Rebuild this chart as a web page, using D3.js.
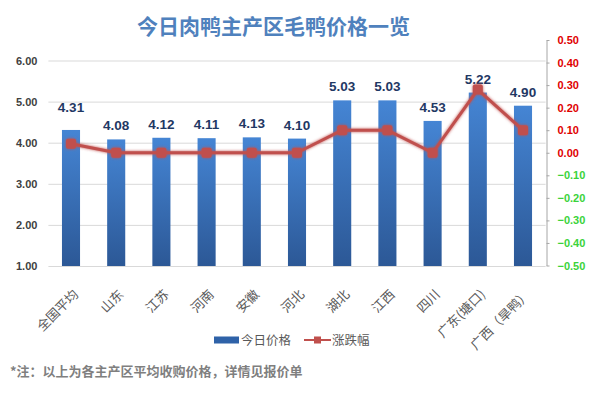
<!DOCTYPE html>
<html>
<head>
<meta charset="utf-8">
<script src="https://cdn.jsdelivr.net/npm/d3@7"></script>
<style>
  html, body { margin: 0; padding: 0; background: #fff; }
  svg { display: block; }
</style>
</head>
<body>
<svg id="chart" width="589" height="393"></svg>
<script>
const categories = ["全国平均", "山东", "江苏", "河南", "安徽", "河北", "湖北", "江西", "四川", "广东(塘口)", "广西（旱鸭）"];
const prices = [4.31, 4.08, 4.12, 4.11, 4.13, 4.10, 5.03, 5.03, 4.53, 5.22, 4.90];
const changes = [0.04, 0.00, 0.00, 0.00, 0.00, 0.00, 0.10, 0.10, 0.00, 0.28, 0.10];
const leftTicks = [1, 2, 3, 4, 5, 6];
const rightTicks = [-0.5, -0.4, -0.3, -0.2, -0.1, 0, 0.1, 0.2, 0.3, 0.4, 0.5];
const title = "今日肉鸭主产区毛鸭价格一览";
const note = "*注：以上为各主产区平均收购价格，详情见报价单";
const seriesNames = ["今日价格", "涨跌幅"];

const FONT = "'Noto Sans CJK SC', 'Noto Sans', sans-serif";
const NUMFONT = "'Liberation Sans', Arial, sans-serif";
const svg = d3.select("#chart");

const defs = svg.append("defs");
const grad = defs.append("linearGradient").attr("id", "barGrad")
  .attr("x1", 0).attr("y1", 0).attr("x2", 0).attr("y2", 1);
grad.append("stop").attr("offset", "0%").attr("stop-color", "#4585d4");
grad.append("stop").attr("offset", "100%").attr("stop-color", "#2c5896");
const glow = defs.append("filter").attr("id", "glow").attr("x", "-20%").attr("y", "-20%").attr("width", "140%").attr("height", "140%");
glow.append("feGaussianBlur").attr("in", "SourceGraphic").attr("stdDeviation", 1.6).attr("result", "b");
const fm = glow.append("feMerge");
fm.append("feMergeNode").attr("in", "b");
fm.append("feMergeNode").attr("in", "SourceGraphic");

const x = d3.scaleBand().domain(categories).range([48.4, 545.6]).paddingInner(0.6).paddingOuter(0.3);
const yL = d3.scaleLinear().domain([1, 6]).range([266, 60.5]);
const yR = d3.scaleLinear().domain([-0.5, 0.5]).range([265.5, 40]);

// Title
svg.append("text").attr("x", 273.5).attr("y", 34).attr("text-anchor", "middle")
  .attr("font-family", FONT).attr("font-weight", "bold").attr("font-size", 21)
  .attr("fill", "#4f81bd").text(title);

// Gridlines + left axis
const gL = svg.append("g").attr("transform", "translate(48.4,0)")
  .call(d3.axisLeft(yL).tickValues(leftTicks).tickFormat(d3.format(".2f"))
    .tickSize(-(545.6 - 48.4)).tickPadding(11));
gL.select(".domain").remove();
gL.selectAll(".tick line").attr("stroke", "#d9d9d9").attr("stroke-width", 1);
gL.selectAll(".tick text").attr("font-family", NUMFONT).attr("font-weight", "bold")
  .attr("font-size", 11).attr("fill", "#404040");

// Bars
svg.append("g").selectAll("rect").data(prices).join("rect")
  .attr("x", (d, i) => x(categories[i]))
  .attr("y", d => yL(d))
  .attr("width", x.bandwidth())
  .attr("height", d => yL(1) - yL(d))
  .attr("fill", "url(#barGrad)");

// Value labels
svg.append("g").selectAll("text").data(prices).join("text")
  .attr("x", (d, i) => x(categories[i]) + x.bandwidth() / 2)
  .attr("y", (d, i) => yL(d) - 9 - (i === 0 ? 9 : 0))
  .attr("text-anchor", "middle")
  .attr("font-family", NUMFONT).attr("font-weight", "bold").attr("font-size", 13.5)
  .attr("fill", "#1f3864").text(d => d.toFixed(2));

// Right axis
const gR = svg.append("g").attr("transform", "translate(546.5,0)")
  .call(d3.axisRight(yR).tickValues(rightTicks).tickFormat(d3.format(".2f")).tickSize(3).tickPadding(8).tickSizeOuter(0));
gR.select(".domain").attr("stroke", "#a6a6a6");
gR.selectAll(".tick line").attr("stroke", "#a6a6a6");
gR.selectAll(".tick text").attr("font-family", NUMFONT).attr("font-weight", "bold")
  .attr("font-size", 11).attr("fill", d => d < 0 ? "#3ad33a" : "#e00000");

// Line series
const line = d3.line().x((d, i) => x(categories[i]) + x.bandwidth() / 2).y(d => yR(d));
const lg = svg.append("g").attr("filter", "url(#glow)");
lg.append("path").datum(changes).attr("d", line).attr("fill", "none")
  .attr("stroke", "#c0504d").attr("stroke-width", 3).attr("stroke-linejoin", "round");
lg.selectAll("rect").data(changes).join("rect")
  .attr("x", (d, i) => x(categories[i]) + x.bandwidth() / 2 - 5)
  .attr("y", d => yR(d) - 5)
  .attr("width", 10).attr("height", 10).attr("rx", 2)
  .attr("fill", "#c0504d");

// X labels
svg.append("g").selectAll("text").data(categories).join("text")
  .attr("transform", (d) => `translate(${x(d) + x.bandwidth() / 2 + 5},${292}) rotate(-45)`)
  .attr("text-anchor", "end").attr("dy", "0.35em")
  .attr("font-family", FONT).attr("font-size", 13).attr("fill", "#595959")
  .text(d => d);

// Legend
const leg = svg.append("g");
leg.append("rect").attr("x", 214).attr("y", 336.5).attr("width", 25).attr("height", 7).attr("fill", "#2f62a8");
leg.append("text").attr("x", 241).attr("y", 344.5).attr("font-family", FONT).attr("font-size", 12.5)
  .attr("fill", "#595959").text(seriesNames[0]);
leg.append("line").attr("x1", 304).attr("x2", 331).attr("y1", 340).attr("y2", 340)
  .attr("stroke", "#c0504d").attr("stroke-width", 2);
leg.append("rect").attr("x", 314).attr("y", 336.5).attr("width", 7).attr("height", 7).attr("fill", "#c0504d");
leg.append("text").attr("x", 332).attr("y", 344.5).attr("font-family", FONT).attr("font-size", 12.5)
  .attr("fill", "#595959").text(seriesNames[1]);

// Footnote
svg.append("text").attr("x", 10).attr("y", 376).attr("font-family", FONT).attr("font-weight", "bold")
  .attr("font-size", 13).attr("fill", "#7f7f7f").text(note);
</script>
</body>
</html>
